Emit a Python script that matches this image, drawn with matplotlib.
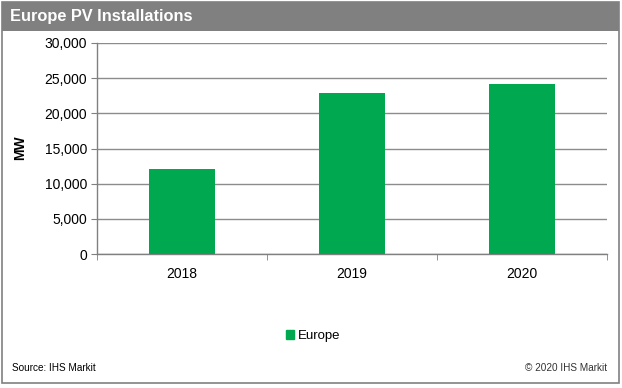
import matplotlib
matplotlib.use("Agg")
import matplotlib.pyplot as plt
from matplotlib.patches import Rectangle
from matplotlib.ticker import FuncFormatter, FixedLocator
import numpy as np

categories = ["2018", "2019", "2020"]
values = [12100, 22900, 24200]
series_name = "Europe"
title = "Europe PV Installations"
ylabel = "MW"
source = "Source: IHS Markit"
copyright_txt = "© 2020 IHS Markit"

W, H = 622, 388
plt.rcParams['font.family'] = ['Liberation Sans', 'DejaVu Sans']
fig = plt.figure(figsize=(W / 100, H / 100), dpi=100)

def fx(px):
    return px / W

def fy(py):
    return 1 - py / H

green = "#00a84f"
gray = "#808080"
gridc = "#8c8c8c"

# outer border
fig.patches.append(Rectangle((fx(2), fy(383)), fx(617), 381 / H, transform=fig.transFigure,
                             fill=False, edgecolor=gray, lw=1.2))
# title bar
fig.patches.append(Rectangle((fx(2), fy(31)), fx(617), 29 / H, transform=fig.transFigure,
                             facecolor=gray, edgecolor=gray, lw=0))
fig.text(fx(10), fy(16.5), title, color="white", fontsize=11.8, fontweight="bold",
         va="center", ha="left")

ax = fig.add_axes([fx(97), fy(254), fx(607) - fx(97), (254 - 43) / H])
x = np.arange(len(categories))
ax.bar(x, values, width=0.39, color=green, zorder=3)
ax.set_xlim(-0.5, len(categories) - 0.5)
ax.set_ylim(0, 30000)
ax.yaxis.set_major_locator(FixedLocator(np.arange(0, 30001, 5000)))
ax.yaxis.set_major_formatter(FuncFormatter(lambda v, p: f"{int(v):,}"))
ax.grid(axis="y", color=gridc, lw=1, zorder=0)
ax.set_xticks(x)
ax.set_xticklabels(categories)
ax.set_xticks(np.arange(-0.5, len(categories) + 0.5, 1), minor=True)
ax.tick_params(axis="x", which="major", length=0, pad=9, labelsize=10)
ax.tick_params(axis="x", which="minor", length=4, color=gray, direction="out")
ax.tick_params(axis="y", length=4, color=gray, labelsize=10, pad=3)
for s in ["top", "right"]:
    ax.spines[s].set_visible(False)
for s in ["left", "bottom"]:
    ax.spines[s].set_color(gray)
    ax.spines[s].set_linewidth(1)
ax.set_facecolor("none")

fig.text(fx(20), fy(148), ylabel, rotation=90, fontsize=10, fontweight="bold",
         va="center", ha="center")

# legend
leg = fig.legend([Rectangle((0, 0), 1, 1, color=green)], [series_name],
                 loc="center", bbox_to_anchor=(fx(313), fy(336)), frameon=False,
                 fontsize=9.5, handlelength=0.6, handleheight=0.6, handletextpad=0.3)

fig.text(fx(12), fy(368), source, fontsize=7.2, va="center", ha="left")
fig.text(fx(607), fy(368), copyright_txt, fontsize=7.2, va="center", ha="right", color="#333333")

fig.savefig("out.png", dpi=100)
